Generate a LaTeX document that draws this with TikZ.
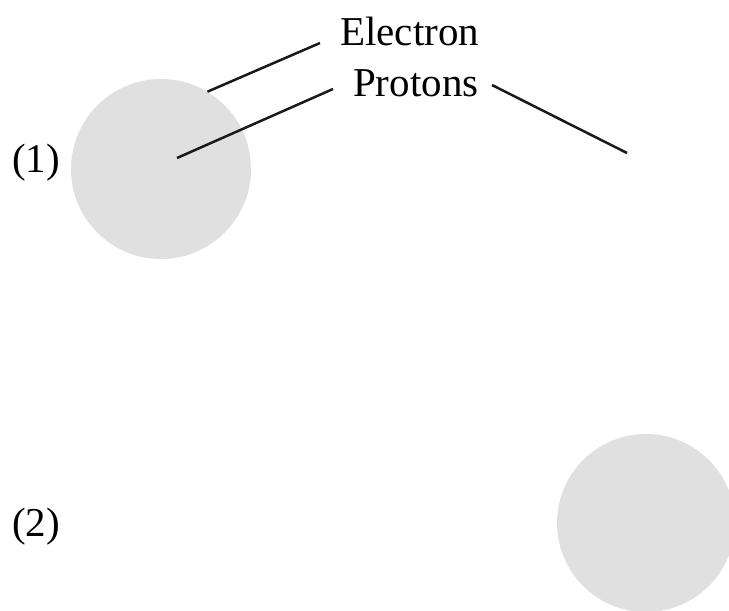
\documentclass[tikz,border=0pt]{standalone}
\usepackage{fontspec}
\setmainfont{Liberation Serif}
\begin{document}
\begin{tikzpicture}[x=1pt,y=-1pt,
  disc/.style={circle,fill=discgray,draw=none,minimum size=180pt,inner sep=0pt},
  lbl/.style={anchor=base west,inner sep=0pt,font=\fontsize{41}{48}\selectfont},
  leader/.style={line width=2.5pt,black!90}]
\definecolor{discgray}{HTML}{E0E0E0}
\useasboundingbox (0,0) rectangle (729,611);
\clip (0,0) rectangle (729,611);
\node[disc] (c1) at (161,169) {};
\node[disc,minimum size=178pt] (c2) at (646,523) {};
\node[lbl] (electron) at (340,45) {Electron};
\node[lbl] (protons) at (353,96) {Protons};
\node[lbl] (l1) at (12,172) {(1)};
\node[lbl] (l2) at (12,536) {(2)};
\coordinate (eA) at (320,43);
\coordinate (pA) at (333,89);
\coordinate (pC) at (177,158);
\coordinate (rA) at (492,85);
\coordinate (rB) at (627,153);
\draw[leader] (c1.59) -- (eA);
\draw[leader] (pC) -- (pA);
\draw[leader] (rA) -- (rB);
\end{tikzpicture}
\end{document}
